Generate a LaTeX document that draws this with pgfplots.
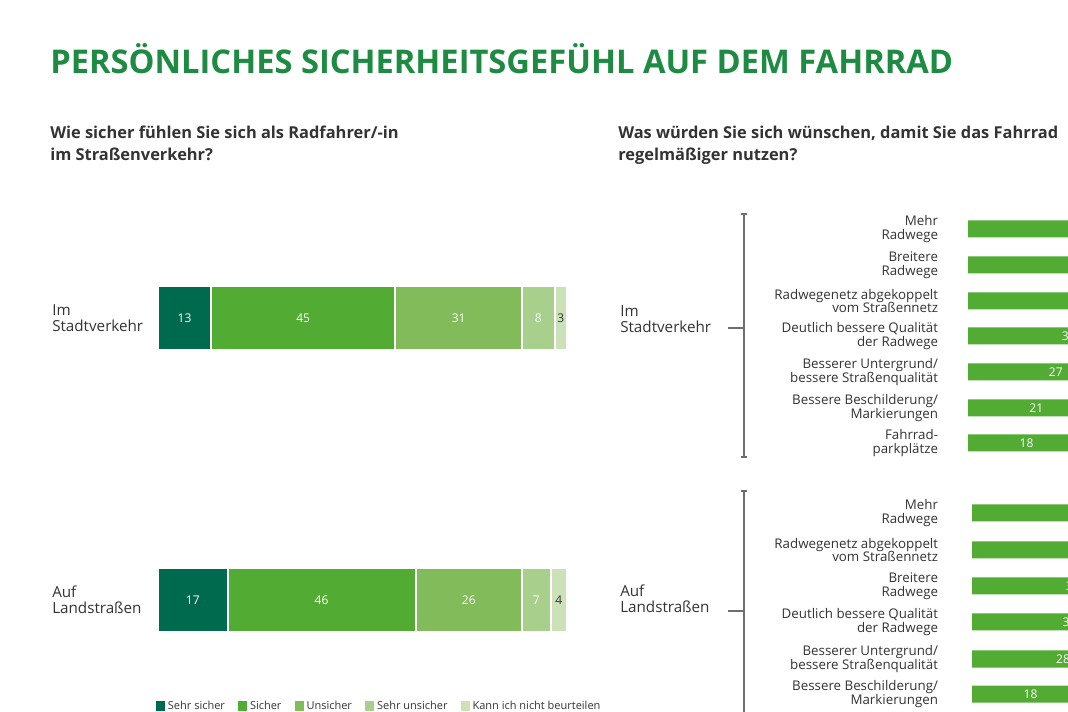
\documentclass[border=0pt]{standalone}
\usepackage{pgfplots}
\pgfplotsset{compat=1.18}
\usepackage{fontspec}
\setmainfont{Open Sans}
\definecolor{c1}{HTML}{006A4E}
\definecolor{c2}{HTML}{52AB33}
\definecolor{c3}{HTML}{82BC5A}
\definecolor{c4}{HTML}{A8D08C}
\definecolor{c5}{HTML}{CBE2B8}
\definecolor{titlegreen}{HTML}{1E8B43}
\definecolor{txt}{HTML}{333333}
\definecolor{brk}{HTML}{6E6E6E}
\newcommand{\fs}[2]{\fontsize{#1}{#2}\selectfont}
\pgfplotsset{
  seg/.style={fill=#1, draw=white, line width=1.5pt},
  centerlabel/.style={nodes near coords,
    every node near coord/.append style={anchor=center, text=#1, font=\fs{9}{11},
      shift={(axis direction cs:-\rawx/2,0)}}},
  stackedlabel/.style={nodes near coords,
    every node near coord/.append style={anchor=center, text=#1, font=\fs{9}{11}}},
}
\begin{document}
\begin{tikzpicture}
\path[use as bounding box] (0,0) rectangle ({1068*0.75pt},{-712*0.75pt});
\clip (0,0) rectangle ({1068*0.75pt},{-712*0.75pt});
\begin{scope}[x=0.75pt,y=-0.75pt]
\node[anchor=base west, inner sep=0pt, text=titlegreen, font=\fs{24.5}{29}\bfseries] at (50,74) {PERSÖNLICHES SICHERHEITSGEFÜHL AUF DEM FAHRRAD};
\node[anchor=base west, inner sep=0pt, text=txt, font=\fs{12.3}{16}\bfseries] at (50,139) {Wie sicher fühlen Sie sich als Radfahrer/-in};
\node[anchor=base west, inner sep=0pt, text=txt, font=\fs{12.3}{16}\bfseries] at (50,161) {im Straßenverkehr?};
\node[anchor=base west, inner sep=0pt, text=txt, font=\fs{12.3}{16}\bfseries] at (618,139) {Was würden Sie sich wünschen, damit Sie das Fahrrad};
\node[anchor=base west, inner sep=0pt, text=txt, font=\fs{12.3}{16}\bfseries] at (618,161) {regelmäßiger nutzen?};
% brackets
\draw[brk, line width=1pt] (744,214) -- (744,457);
\draw[brk, line width=1pt] (741,214) -- (747,214);
\draw[brk, line width=1pt] (741,457) -- (747,457);
\draw[brk, line width=1pt] (728,328) -- (744,328);
\draw[brk, line width=1pt] (744,491) -- (744,720);
\draw[brk, line width=1pt] (741,491) -- (747,491);
\draw[brk, line width=1pt] (728,611) -- (744,611);
\node[anchor=base west, inner sep=0pt, text=txt, font=\fs{11.4}{13}] at (620,317) {Im};
\node[anchor=base west, inner sep=0pt, text=txt, font=\fs{11.4}{13}] at (620,333) {Stadtverkehr};
\node[anchor=base west, inner sep=0pt, text=txt, font=\fs{11.4}{13}] at (620,597) {Auf};
\node[anchor=base west, inner sep=0pt, text=txt, font=\fs{11.4}{13}] at (620,613) {Landstraßen};
\end{scope}

% left stacked chart
\begin{axis}[
  at={({158*0.75pt},{-712*0.75pt})}, anchor=south west,
  scale only axis, width={409*0.75pt}, height={712*0.75pt},
  xmin=0, xmax=100, ymin=-712, ymax=0,
  xbar stacked, bar width=64,
  axis line style={draw=none}, tick style={draw=none}, xtick=\empty,
  ytick={-318,-600},
  yticklabels={{Im\\Stadtverkehr},{Auf\\Landstraßen}},
  yticklabel style={anchor=west, align=left, inner sep=0pt, xshift={-106*0.75pt}, font=\fs{11.4}{12.2}, text=txt},
  /pgf/number format/assume math mode=true,
  legend style={at={(axis cs:-0.5,-706)}, anchor=west, draw=none, fill=none, inner sep=0pt,
    font=\fs{8.25}{10}, text=txt, /tikz/every even column/.append style={column sep=8pt}},
  legend columns=-1,
  legend image code/.code={\fill[#1,draw=none] (0pt,-3.4pt) rectangle (6.8pt,3.4pt);},
]
\addplot[seg=c1, stackedlabel=white] coordinates {(13,-318) (17,-600)};
\addplot[seg=c2, stackedlabel=white] coordinates {(45,-318) (46,-600)};
\addplot[seg=c3, stackedlabel=white] coordinates {(31,-318) (26,-600)};
\addplot[seg=c4, stackedlabel=white] coordinates {(8,-318) (7,-600)};
\addplot[seg=c5, stackedlabel=txt] coordinates {(3,-318) (4,-600)};
\legend{Sehr sicher, Sicher, Unsicher, Sehr unsicher, Kann ich nicht beurteilen}
\end{axis}

% right chart: Stadtverkehr
\begin{axis}[
  at={({968*0.75pt},{-712*0.75pt})}, anchor=south west,
  scale only axis, width={650*0.75pt}, height={712*0.75pt},
  xmin=0, xmax=100, ymin=-712, ymax=0,
  xbar, bar width=17,
  axis line style={draw=none}, tick style={draw=none}, xtick=\empty,
  ytick={-229,-265,-301,-336,-372,-408,-443},
  yticklabels={{Mehr\\Radwege},{Breitere\\Radwege},{Radwegenetz abgekoppelt\\vom Straßennetz},{Deutlich bessere Qualität\\der Radwege},{Besserer Untergrund/\\bessere Straßenqualität},{Bessere Beschilderung/\\Markierungen},{Fahrrad-\\parkplätze}},
  yticklabel style={anchor=east, align=right, inner sep=0pt, xshift={-24*0.75pt}, font=\fs{10}{10.4}, text=txt},
  /pgf/number format/assume math mode=true,
  visualization depends on=rawx \as \rawx,
]
\addplot[fill=c2, draw=none, centerlabel=white] coordinates {(59,-229) (45,-265) (40,-301) (31,-336) (27,-372) (21,-408) (18,-443)};
\end{axis}

% right chart: Landstrassen
\begin{axis}[
  at={({972*0.75pt},{-712*0.75pt})}, anchor=south west,
  scale only axis, width={650*0.75pt}, height={712*0.75pt},
  xmin=0, xmax=100, ymin=-712, ymax=0,
  xbar, bar width=17,
  axis line style={draw=none}, tick style={draw=none}, xtick=\empty,
  ytick={-513,-550,-586,-622,-659,-694},
  yticklabels={{Mehr\\Radwege},{Radwegenetz abgekoppelt\\vom Straßennetz},{Breitere\\Radwege},{Deutlich bessere Qualität\\der Radwege},{Besserer Untergrund/\\bessere Straßenqualität},{Bessere Beschilderung/\\Markierungen}},
  yticklabel style={anchor=east, align=right, inner sep=0pt, xshift={-28*0.75pt}, font=\fs{10}{10.4}, text=txt},
  /pgf/number format/assume math mode=true,
  visualization depends on=rawx \as \rawx,
]
\addplot[fill=c2, draw=none, centerlabel=white] coordinates {(53,-513) (44,-550) (31,-586) (30,-622) (28,-659) (18,-694)};
\end{axis}
\end{tikzpicture}
\end{document}
